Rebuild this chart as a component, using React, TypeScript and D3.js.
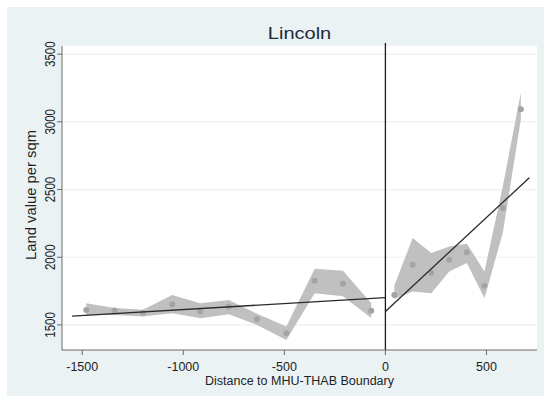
import React from "react";
import * as d3 from "d3";

const xTicks = [-1500, -1000, -500, 0, 500];
const yTicks = [1500, 2000, 2500, 3000, 3500];

const leftX = [-1480, -1340, -1200, -1055, -915, -775, -635, -490, -350, -210, -70];
const leftY = [1611, 1606, 1591, 1653, 1599, 1636, 1542, 1439, 1826, 1804, 1604];
const leftUpper = [1660, 1625, 1612, 1722, 1660, 1685, 1582, 1488, 1915, 1900, 1660];
const leftLower = [1574, 1574, 1562, 1586, 1549, 1579, 1500, 1389, 1735, 1712, 1552];

const rightX = [44, 135, 227, 316, 403, 490, 581, 670];
const rightY = [1722, 1944, 1883, 1981, 2036, 1789, 2364, 3093];
const rightUpper = [1790, 2142, 2031, 2080, 2100, 1895, 2525, 3215];
const rightLower = [1692, 1747, 1735, 1895, 1957, 1698, 2180, 3019];

const fitLeftX = [-1550, 0];
const fitLeftY = [1565, 1702];
const fitRightX = [0, 712];
const fitRightY = [1600, 2587];

const W = 544;
const H = 396;
const plotL = 62, plotR = 537, plotT = 46, plotB = 350;

export default function App() {
  const x = d3.scaleLinear().domain([-1600, 750]).range([plotL, plotR]);
  const y = d3.scaleLinear().domain([1315, 3560]).range([plotB, plotT]);

  const mkArea = (xs: number[], up: number[], lo: number[]) =>
    d3
      .area<number>()
      .x((_, i) => x(xs[i]))
      .y0((_, i) => y(lo[i]))
      .y1((_, i) => y(up[i]))(xs) as string;
  const mkLine = (xs: number[], ys: number[]) =>
    d3
      .line<number>()
      .x((_, i) => x(xs[i]))
      .y((_, i) => y(ys[i]))(xs) as string;

  const font = "'Liberation Sans', Arial, Helvetica, sans-serif";
  const textColor = "#1e1e1e";

  return (
    <svg
      width={W}
      height={H}
      style={{ position: "absolute", left: 0, top: 0 }}
      fontFamily={font}
    >
      <rect x={0} y={0} width={W} height={H} fill="#ffffff" />
      <rect x={7} y={7} width={W - 7} height={H - 7} fill="#eaf2f3" />
      <rect x={plotL} y={plotT} width={plotR - plotL} height={plotB - plotT} fill="#ffffff" />
      {yTicks.map((t) => (
        <line key={"g" + t} x1={plotL} x2={plotR} y1={y(t)} y2={y(t)} stroke="#eaf2f3" strokeWidth={1.2} />
      ))}
      <path d={mkArea(leftX, leftUpper, leftLower)} fill="#c0c0c0" />
      <path d={mkArea(rightX, rightUpper, rightLower)} fill="#c0c0c0" />
      {leftX.map((v, i) => (
        <circle key={"l" + i} cx={x(v)} cy={y(leftY[i])} r={3} fill="#a4a4a4" />
      ))}
      {rightX.map((v, i) => (
        <circle key={"r" + i} cx={x(v)} cy={y(rightY[i])} r={3} fill="#a4a4a4" />
      ))}
      <path d={mkLine(fitLeftX, fitLeftY)} stroke="#2a2a2a" strokeWidth={1.3} fill="none" />
      <path d={mkLine(fitRightX, fitRightY)} stroke="#2a2a2a" strokeWidth={1.3} fill="none" />
      <line x1={x(0)} x2={x(0)} y1={43} y2={plotB} stroke="#1a1a1a" strokeWidth={1.3} />
      {/* axes */}
      <line x1={plotL} x2={plotL} y1={plotT} y2={plotB} stroke="#6a6a6a" strokeWidth={1} />
      <line x1={plotL} x2={plotR} y1={plotB} y2={plotB} stroke="#6a6a6a" strokeWidth={1} />
      {yTicks.map((t) => (
        <g key={"yt" + t}>
          <line x1={plotL - 5} x2={plotL} y1={y(t)} y2={y(t)} stroke="#6a6a6a" />
          <text
            transform={`translate(${plotL - 7},${y(t)}) scale(1.3,1) rotate(-90)`}
            textAnchor="middle"
            fontSize={11.5}
            fill={textColor}
          >
            {t}
          </text>
        </g>
      ))}
      {xTicks.map((t) => (
        <g key={"xt" + t}>
          <line x1={x(t)} x2={x(t)} y1={plotB} y2={plotB + 5} stroke="#6a6a6a" />
          <text x={x(t)} y={plotB + 21} textAnchor="middle" fontSize={12.5} fill={textColor}>
            {t}
          </text>
        </g>
      ))}
      <text
        transform={`translate(${(plotL + plotR) / 2},39) scale(1.25,1)`}
        textAnchor="middle"
        fontSize={16}
        fill="#1e2a3a"
      >
        Lincoln
      </text>
      <text x={(plotL + plotR) / 2} y={385} textAnchor="middle" fontSize={12.5} fill={textColor}>
        Distance to MHU-THAB Boundary
      </text>
      <text
        transform={`translate(36,195) rotate(-90)`}
        textAnchor="middle"
        fontSize={14}
        fill={textColor}
        textLength={130}
        lengthAdjust="spacingAndGlyphs"
      >
        Land value per sqm
      </text>
    </svg>
  );
}
